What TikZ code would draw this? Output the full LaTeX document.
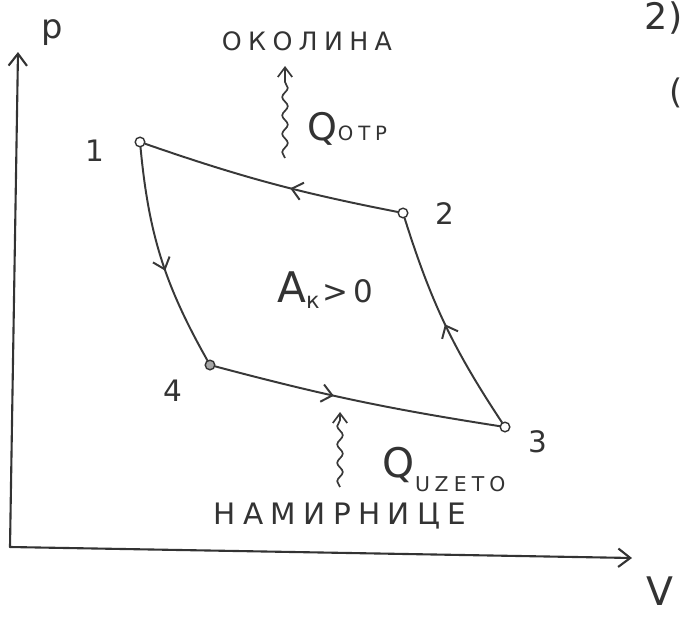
\documentclass[tikz,border=0pt]{standalone}
\usepackage{fontspec}
\setmainfont{DejaVu Sans}
\newfontfamily\wide[LetterSpace=25]{DejaVu Sans}
\usetikzlibrary{arrows.meta,decorations.markings,decorations.pathmorphing,calc}
\newcommand\fsz[1]{\fontsize{#1}{#1}\selectfont}
\tikzset{
  pvpoint/.style={circle, draw=black!80, fill=white, line width=1pt,
                  minimum size=2.4mm, inner sep=0pt},
  pvline/.style ={line width=1.4pt, black!78, line cap=round},
  pvaxis/.style ={line width=1.5pt, black!80, line cap=round,
                  -{Straight Barb[length=3mm,width=4.6mm]}},
  pvdir/.style  ={pvline, postaction={decorate},
                  decoration={markings, mark=at position #1 with
                  {\arrow{Straight Barb[length=2.6mm,width=4.4mm]}}}},
  pvheat/.style ={line width=1.2pt, black!78, decorate,
                  decoration={snake, amplitude=0.7mm, segment length=4.6mm,
                              post length=2mm},
                  -{Straight Barb[length=2.4mm,width=3.6mm]}},
  pvnum/.style  ={font=\fsz{21}, text=black!80},
  pvtext/.style ={text=black!80},
}
\begin{document}
\begin{tikzpicture}[x=0.025cm, y=-0.025cm]
  \useasboundingbox (0,0) rectangle (684,618);
  % axes
  \coordinate (O) at (10,547);
  \coordinate (ptip) at (18,52);
  \coordinate (vtip) at (632,558);
  \draw[pvaxis] (O) -- (ptip);
  \draw[pvaxis] (O) -- (vtip);
  \node[pvtext, font=\fsz{24}] (plab) at (52,33) {p};
  \node[pvtext, font=\fsz{28}] (vlab) at (660,591) {V};
  % states of the cycle
  \node[pvpoint] (s1) at (140,142) {};
  \node[pvpoint] (s2) at (403,213) {};
  \node[pvpoint] (s3) at (505,427) {};
  \node[pvpoint, fill=black!35] (s4) at (210,365) {};
  \node[pvnum] (n1) at (95,151) {1};
  \node[pvnum] (n2) at (445,214) {2};
  \node[pvnum] (n3) at (538,442) {3};
  \node[pvnum] (n4) at (173,391) {4};
  \draw[pvdir=0.56] (s1) to[bend right=12] (s4);
  \draw[pvdir=0.42] (s4) to[bend right=3] (s3);
  \draw[pvdir=0.5]  (s3) to[bend left=8] (s2);
  \draw[pvdir=0.42] (s2) to[bend left=4] (s1);
  \node[pvtext] (work) at (325,290)
    {{\fsz{30}A}\raisebox{-4pt}{\fsz{16}к}\,{\fsz{22}>\,0}};
  % heat given away
  \node[pvtext, font=\wide\fsz{18}] (okolina) at (307,41) {ОКОЛИНА};
  \coordinate (qoutS) at (285,158);
  \coordinate (qoutE) at (285,66);
  \draw[pvheat] (qoutS) -- (qoutE);
  \node[pvtext, anchor=base west] (qotr) at (303,140)
    {{\fsz{27}Q}{\wide\fsz{14}ОТР}};
  % heat taken
  \node[pvtext, font=\wide\fsz{21}] (namirnice) at (340,516) {НАМИРНИЦЕ};
  \coordinate (qinS) at (340,487);
  \coordinate (qinE) at (340,412);
  \draw[pvheat] (qinS) -- (qinE);
  \node[pvtext, anchor=base west] (quzeto) at (378,477)
    {{\fsz{29}Q}\raisebox{-10pt}{\wide\fsz{14.5}UZETO}};
  % next item on the page
  \node[pvtext, font=\fsz{26}, anchor=east, inner sep=1pt] (part) at (684,18) {2)};
  \node[pvtext, font=\fsz{24}, anchor=east, inner sep=1pt] (paren) at (684,93) {(};
\end{tikzpicture}
\end{document}
